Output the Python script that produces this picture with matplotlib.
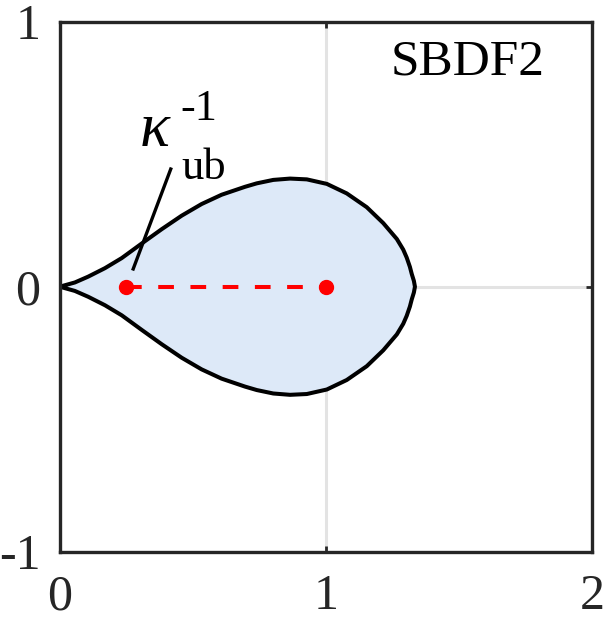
import numpy as np
import matplotlib
matplotlib.use("Agg")
from matplotlib import pyplot as plt

plt.rcParams['font.family'] = ['Liberation Serif', 'DejaVu Serif']

# upper half of the stability boundary (lower half is its mirror)
bx = [0.0, 0.057, 0.107, 0.170, 0.233, 0.308, 0.383, 0.458, 0.533, 0.608, 0.696,
      0.740, 0.802, 0.865, 0.928, 1.003, 1.078, 1.153, 1.215, 1.266, 1.290, 1.303,
      1.315, 1.322, 1.330, 1.334]
by = [0.0, 0.016, 0.038, 0.070, 0.108, 0.163, 0.217, 0.268, 0.312, 0.347, 0.377,
      0.390, 0.403, 0.408, 0.405, 0.388, 0.352, 0.300, 0.240, 0.180, 0.140, 0.110,
      0.075, 0.048, 0.022, 0.0]

# kappa_ub^{-1} and 1 on the real axis
seg_x = [0.25, 1.0]
seg_y = [0.0, 0.0]

# pointer line for the label
ptr_x = [0.276, 0.417]
ptr_y = [0.067, 0.444]

xticks = [0, 1, 2]
yticks = [-1, 0, 1]
xlabels = ['0', '1', '2']
ylabels = ['-1', '0', '1']

W, H = 607, 620
fig = plt.figure(figsize=(W / 100, H / 100), dpi=100)
ax = fig.add_axes([59.7 / W, 1 - 551.7 / H, 532.6 / W, 530 / H])

# closed boundary: upper half out, lower half back
cx = np.concatenate([bx, bx[::-1]])
cy = np.concatenate([by, -np.array(by[::-1])])
ax.fill(cx, cy, color='#dde9f8', zorder=2, lw=0)
ax.plot(cx, cy, color='black', lw=2.9, zorder=3, solid_joinstyle='round')

ax.plot(seg_x, seg_y, color='red', lw=2.9, ls=(0, (3.9, 4.1)), zorder=4)
ax.plot(seg_x, seg_y, 'o', color='red', ms=10, zorder=5)

ax.plot(ptr_x, ptr_y, color='black', lw=2.4, zorder=6)
# label built like MATLAB's tex: \kappa_{ub}^{-1}
ax.text(0.300, 0.530, '\u03ba', fontsize=45, style='italic', zorder=7)
ax.text(0.455, 0.630, '-1', fontsize=32, zorder=7)
ax.text(0.455, 0.405, 'ub', fontsize=32, zorder=7)

ax.text(1.82, 0.80, 'SBDF2', fontsize=37, ha='right', va='baseline')

ax.set_xlim(0, 2)
ax.set_ylim(-1, 1)
ax.set_xticks(xticks)
ax.set_xticklabels(xlabels)
ax.set_yticks(yticks)
ax.set_yticklabels(ylabels)
ax.grid(True, color='#e3e3e3', lw=2.2, zorder=0)
ax.set_axisbelow(True)
ax.tick_params(direction='in', length=4, width=2, colors='#262626', labelcolor='#262626',
               top=True, right=True, labelsize=36)
ax.tick_params(axis='x', pad=16)
ax.tick_params(axis='y', pad=14)
for s in ax.spines.values():
    s.set_linewidth(2.4)
    s.set_color('#262626')
    s.set_zorder(8)

fig.savefig('out.png', dpi=100)
